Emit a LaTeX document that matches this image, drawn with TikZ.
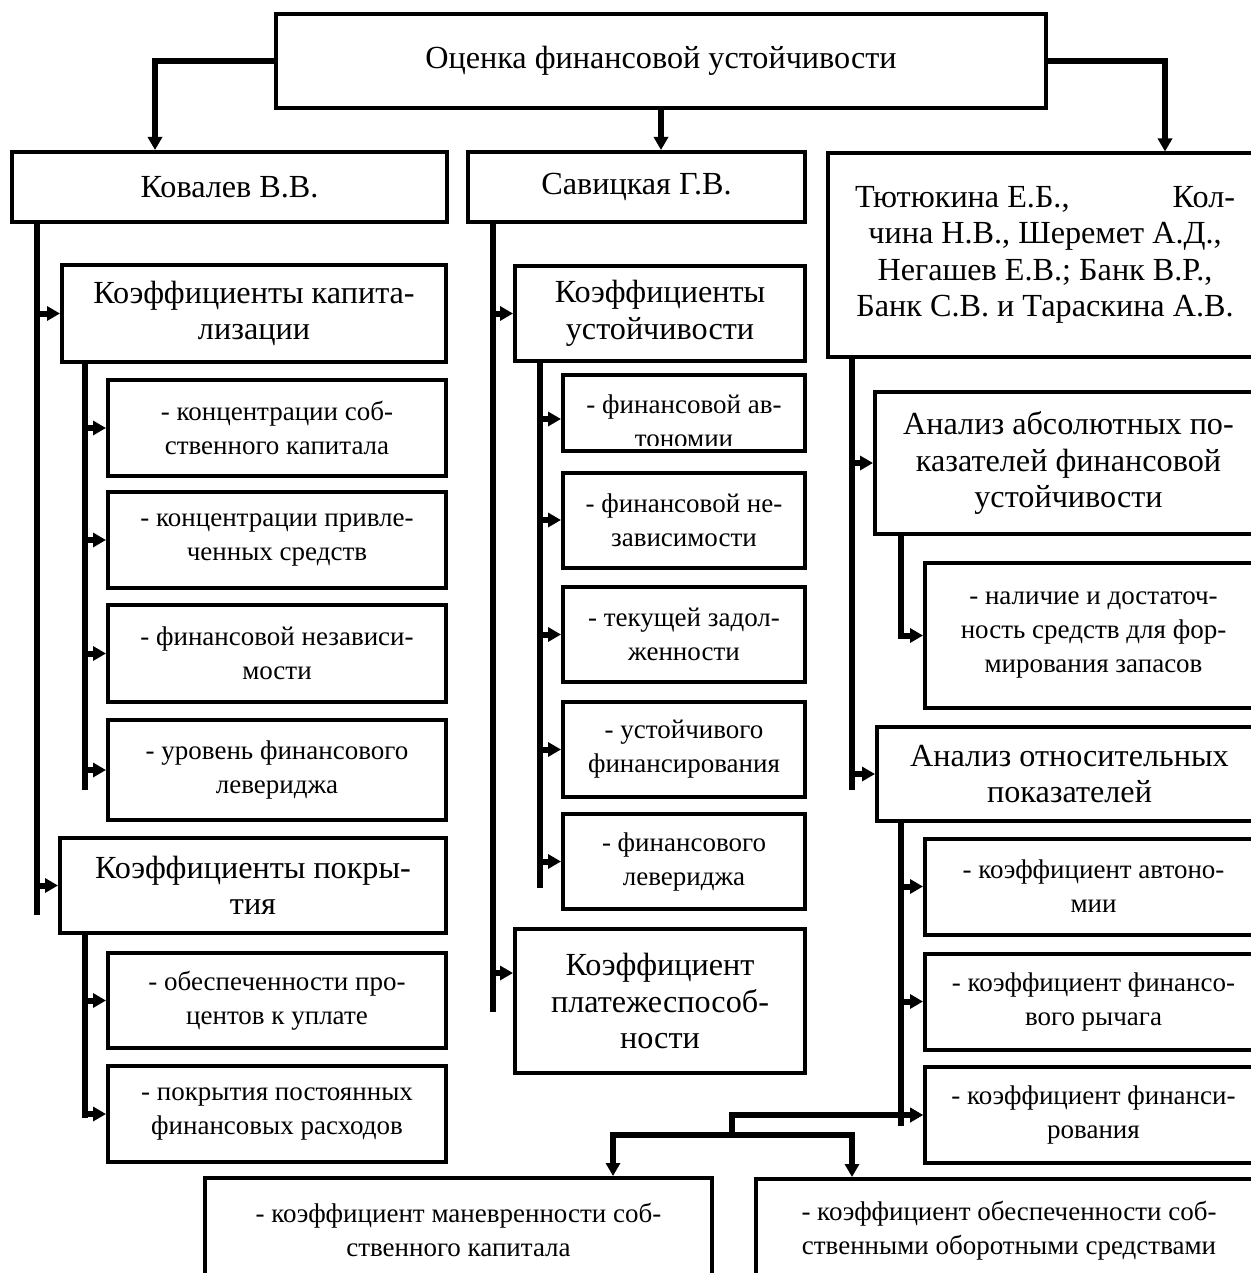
\documentclass[tikz,border=0pt]{standalone}
\usepackage{fontspec}
\setmainfont{Liberation Serif}
\usetikzlibrary{arrows.meta}

\begin{document}
\begin{tikzpicture}[x=0.5pt,y=-0.5pt,>={Triangle[length=6.5pt,width=7pt]},
  box/.style={draw,line width=2pt,align=center,inner sep=0pt},
  wh/.style 2 args={minimum width=#1*0.5pt,minimum height=#2*0.5pt},
  big/.style={font=\fontsize{16.1}{18.2}\selectfont},
  small/.style={font=\fontsize{13.5}{17}\selectfont},
  conn/.style={line width=3pt}]
  \useasboundingbox (0,0) rectangle (1250,1273);
  % top level
  \node[box,big,wh={770}{94}] (top) at (661,61) {Оценка финансовой устойчивости};
  \node[box,big,wh={435}{70}] (kov) at (229.5,187) {Ковалев В.В.};
  \node[box,big,wh={337}{70}] (sav) at (636.5,187) {Савицкая Г.В.};
  \node[box,big,wh={434}{203}] (auth) at (1045,255)
    {\makebox[190pt][s]{Тютюкина Е.Б.,\hfill Кол-}\\чина Н.В., Шеремет А.Д.,\\Негашев Е.В.; Банк В.Р.,\\Банк С.В. и Тараскина А.В.};
  \draw[conn,->] (top.west) -| ([xshift=-37.25pt]kov.north);
  \draw[conn,->] (top.south) -- (top.south |- sav.north);
  \draw[conn,->] (top.east) -| ([xshift=60pt]auth.north);

  % Kovalev
  \node[box,big,wh={384}{97}] (kap) at (254,313.5) {Коэффициенты капита-\\лизации};
  \node[box,big,wh={386}{95}] (pokr) at (253,885.5) {Коэффициенты покры-\\тия};
  \foreach \n/\y/\h/\t in {k1/428/96/{- концентрации соб-\\ственного капитала},
      k2/540/96/{- концентрации привле-\\ченных средств},
      k3/653.5/97/{- финансовой независи-\\мости},
      k4/770/100/{- уровень финансового\\левериджа},
      p1/1000.5/95/{- обеспеченности про-\\центов к уплате},
      p2/1114/96/{- покрытия постоянных\\финансовых расходов}}
    \node[box,small,wh={338}{\h}] (\n) at (277,\y) {\t};
  \coordinate (kovA) at (37,222);  \coordinate (kovZ) at (37,915);
  \coordinate (kapA) at (85,362);  \coordinate (kapZ) at (85,790);
  \coordinate (pokA) at (85,933);  \coordinate (pokZ) at (85,1118);
  \draw[conn] (kovA) -- (kovZ);
  \draw[conn] (kapA) -- (kapZ);
  \draw[conn] (pokA) -- (pokZ);
  \foreach \n in {kap,pokr}
    \draw[conn,->] (kovA |- \n.west) -- (\n.west);
  \foreach \n in {k1,k2,k3,k4}
    \draw[conn,->] (kapA |- \n.west) -- (\n.west);
  \foreach \n in {p1,p2}
    \draw[conn,->] (pokA |- \n.west) -- (\n.west);

  % Savitskaya
  \node[box,big,wh={290}{95}] (ust) at (660,313.5) {Коэффициенты\\устойчивости};
  \node[box,big,wh={290}{144}] (plat) at (660,1001) {Коэффициент\\платежеспособ-\\ности};
  \node[box,wh={242}{76}] (s1) at (684,413) {};
  \begin{scope}
    \clip (s1.north west) rectangle ([yshift=4pt]s1.south east);
    \node[small,align=center] (s1t) at (684,421) {- финансовой ав-\\тономии};
  \end{scope}
  \foreach \n/\y/\t in {s2/520/{- финансовой не-\\зависимости},
      s3/634.5/{- текущей задол-\\женности},
      s4/749.5/{- устойчивого\\финансирования},
      s5/861.5/{- финансового\\левериджа}}
    \node[box,small,wh={242}{95}] (\n) at (684,\y) {\t};
  \coordinate (savA) at (493,222); \coordinate (savZ) at (493,1012);
  \coordinate (ustA) at (540,362); \coordinate (ustZ) at (540,888);
  \coordinate (platIn) at ([yshift=14pt]plat.west);
  \coordinate (s1In) at ([yshift=-3pt]s1.west);
  \draw[conn] (savA) -- (savZ);
  \draw[conn] (ustA) -- (ustZ);
  \draw[conn,->] (savA |- ust.west) -- (ust.west);
  \draw[conn,->] (savA |- platIn) -- (platIn);
  \draw[conn,->] (ustA |- s1In) -- (s1In);
  \foreach \n in {s2,s3,s4,s5}
    \draw[conn,->] (ustA |- \n.west) -- (\n.west);

  % other authors
  \node[box,big,wh={387}{142}] (abs) at (1068.5,463) {Анализ абсолютных по-\\казателей финансовой\\устойчивости};
  \node[box,small,wh={337}{145}] (nal) at (1093.5,635.5) {- наличие и достаточ-\\ность средств для фор-\\мирования запасов};
  \node[box,big,wh={385}{94}] (otn) at (1069.5,774) {Анализ относительных\\показателей};
  \foreach \n/\y/\t in {r1/886.5/{- коэффициент автоно-\\мии},
      r2/1001.5/{- коэффициент финансо-\\вого рычага},
      r3/1115/{- коэффициент финанси-\\рования}}
    \node[box,small,wh={337}{96}] (\n) at (1093.5,\y) {\t};
  \coordinate (autA) at (852,355); \coordinate (autZ) at (852,790);
  \coordinate (absA) at (901,534);
  \coordinate (otnA) at (901,821); \coordinate (otnZ) at (901,1126);
  \draw[conn] (autA) -- (autZ);
  \draw[conn] (otnA) -- (otnZ);
  \foreach \n in {abs,otn}
    \draw[conn,->] (autA |- \n.west) -- (\n.west);
  \draw[conn,->] (absA) |- (nal.west);
  \foreach \n in {r1,r2,r3}
    \draw[conn,->] (otnA |- \n.west) -- (\n.west);

  % bottom row
  \node[box,small,wh={507}{104}] (man) at (458.5,1230) {- коэффициент маневренности соб-\\ственного капитала};
  \node[box,small,wh={506}{104}] (obes) at (1009,1231) {- коэффициент обеспеченности соб-\\ственными оборотными средствами};
  \coordinate (fork) at (732,1135);
  \draw[conn,->] (fork) -- (fork |- r3.west) -- (r3.west);
  \draw[conn,->] (fork) -| ([xshift=77.25pt]man.north);
  \draw[conn,->] (fork) -| ([xshift=-78.5pt]obes.north);
\end{tikzpicture}
\end{document}
